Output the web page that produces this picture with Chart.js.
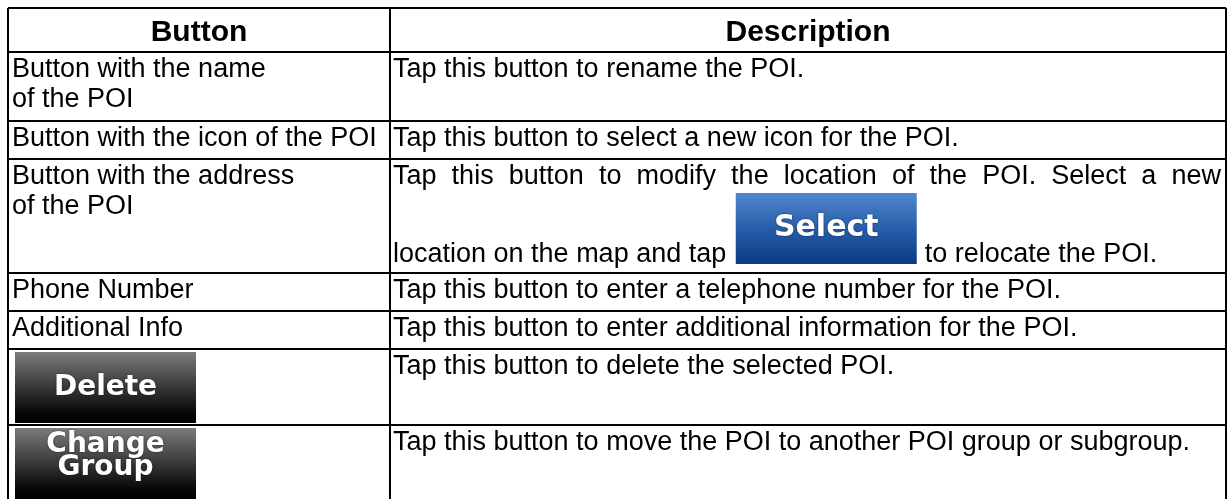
<!DOCTYPE html>
<html lang="en">
<head>
    <meta charset="UTF-8">
    <title>POI Buttons</title>
    <script src="https://cdn.jsdelivr.net/npm/chart.js"></script>
    <style>
        html, body { margin: 0; padding: 0; background: #fff; }
        #wrap { width: 1229px; height: 499px; }
    </style>
</head>
<body>
    <div id="wrap"><canvas id="poiTable" width="1229" height="499"></canvas></div>

    <script>
        // table content
        const columnTitles = ['Button', 'Description'];
        const buttonNames = [
            ['Button with the name', 'of the POI'],
            ['Button with the icon of the POI'],
            ['Button with the address', 'of the POI'],
            ['Phone Number'],
            ['Additional Info'],
            [],
            []
        ];
        const buttonImages = [null, null, null, null, null, ['Delete'], ['Change', 'Group']];
        const descriptions = [
            'Tap this button to rename the POI.',
            'Tap this button to select a new icon for the POI.',
            'Tap this button to modify the location of the POI. Select a new',
            'Tap this button to enter a telephone number for the POI.',
            'Tap this button to enter additional information for the POI.',
            'Tap this button to delete the selected POI.',
            'Tap this button to move the POI to another POI group or subgroup.'
        ];
        const inlineRow = 2;
        const inlineBefore = 'location on the map and tap';
        const inlineLabel = 'Select';
        const inlineAfter = 'to relocate the POI.';

        // layout (pixels)
        const layout = {
            left: 8, right: 1226, top: 8, split: 390,
            rowHeights: [44, 69, 38, 114, 38, 38, 76, 76],
            body: 27, head: 30, lineGap: 30, baseline: 25
        };

        const tableW = layout.right - layout.left;
        const visibleH = 499 - layout.top;
        const rowEdges = [0];
        layout.rowHeights.forEach(h => rowEdges.push(rowEdges[rowEdges.length - 1] + h));

        function text(ctx, s, x, y, font, align) {
            ctx.save();
            ctx.font = font;
            ctx.fillStyle = '#000';
            ctx.textAlign = align || 'left';
            ctx.textBaseline = 'alphabetic';
            ctx.fillText(s, x, y);
            ctx.restore();
        }

        function textWidth(ctx, s, font) {
            ctx.save();
            ctx.font = font;
            const w = ctx.measureText(s).width;
            ctx.restore();
            return w;
        }

        function justified(ctx, s, x0, x1, y, font) {
            const words = s.split(' ');
            const widths = words.map(w => textWidth(ctx, w, font));
            const gap = (x1 - x0 - widths.reduce((a, b) => a + b, 0)) / (words.length - 1);
            let x = x0;
            words.forEach((w, i) => {
                text(ctx, w, x, y, font);
                x += widths[i] + gap;
            });
        }

        function imageButton(ctx, x, y, w, h, stops, labels, size, lineH) {
            ctx.save();
            const g = ctx.createLinearGradient(0, y, 0, y + h);
            stops.forEach(s => g.addColorStop(s[0], s[1]));
            ctx.fillStyle = g;
            ctx.fillRect(x, y, w, h);
            ctx.font = 'bold ' + size + 'px "DejaVu Sans"';
            ctx.textAlign = 'center';
            ctx.textBaseline = 'middle';
            ctx.fillStyle = '#fff';
            ctx.shadowColor = 'rgba(0,0,0,0.6)';
            ctx.shadowBlur = 2;
            const y0 = y + h / 2 - (labels.length - 1) * lineH / 2 - (labels.length > 1 ? 7 : 0);
            labels.forEach((l, i) => ctx.fillText(l, x + w / 2, y0 + i * lineH));
            ctx.restore();
        }

        const greyStops = [[0, '#7c7c7c'], [0.45, '#3e3e3e'], [0.85, '#080808'], [1, '#000']];
        const blueStops = [[0, '#4f87cf'], [0.5, '#285ea9'], [1, '#093985']];

        const cellPlugin = {
            id: 'cells',
            afterDraw(chart) {
                const ctx = chart.ctx;
                const xs = chart.scales.x, ys = chart.scales.y;
                const bodyFont = layout.body + 'px "Liberation Sans", Arial, sans-serif';
                const headFont = 'bold ' + layout.head + 'px "Liberation Sans", Arial, sans-serif';
                const xL = xs.getPixelForValue(0);
                const xS = xs.getPixelForValue(layout.split - layout.left);
                const xR = xs.getPixelForValue(tableW);

                // header
                const hTop = ys.getPixelForValue(rowEdges[0]);
                text(ctx, columnTitles[0], (xL + xS) / 2, hTop + 33, headFont, 'center');
                text(ctx, columnTitles[1], (xS + xR) / 2, hTop + 33, headFont, 'center');

                // rows
                descriptions.forEach((d, i) => {
                    const top = ys.getPixelForValue(rowEdges[i + 1]);
                    const bottom = ys.getPixelForValue(rowEdges[i + 2]);
                    buttonNames[i].forEach((line, k) => {
                        text(ctx, line, xL + 4, top + layout.baseline + k * layout.lineGap, bodyFont);
                    });
                    if (buttonImages[i]) {
                        imageButton(ctx, xL + 7, top + 3, 181, bottom - top - 5, greyStops, buttonImages[i], 28, 23);
                    }
                    if (i === inlineRow) {
                        justified(ctx, d, xS + 3, xR - 5, top + layout.baseline, bodyFont);
                        const y2 = top + 103;
                        text(ctx, inlineBefore, xS + 3, y2, bodyFont);
                        const bx = xS + 3 + textWidth(ctx, inlineBefore + ' ', bodyFont) + 2;
                        imageButton(ctx, bx, top + 34, 181, 71, blueStops, [inlineLabel], 30, 30);
                        text(ctx, inlineAfter, bx + 181 + 8, y2, bodyFont);
                    } else {
                        text(ctx, d, xS + 3, top + layout.baseline, bodyFont);
                    }
                });
            }
        };

        const ruleGrid = {
            display: true,
            color: '#000',
            lineWidth: 2,
            drawTicks: false
        };

        new Chart(document.getElementById('poiTable'), {
            type: 'scatter',
            data: { datasets: [{ data: [] }] },
            options: {
                responsive: false,
                animation: false,
                events: [],
                layout: { padding: { left: layout.left, top: layout.top, right: 1229 - layout.right, bottom: 0 } },
                plugins: { legend: { display: false }, tooltip: { enabled: false } },
                scales: {
                    x: {
                        type: 'linear', min: 0, max: tableW,
                        grid: ruleGrid, border: { display: false },
                        ticks: { display: false },
                        afterBuildTicks: s => { s.ticks = [0, layout.split - layout.left, tableW].map(v => ({ value: v })); }
                    },
                    y: {
                        type: 'linear', min: 0, max: visibleH, reverse: true,
                        grid: ruleGrid, border: { display: false },
                        ticks: { display: false },
                        afterBuildTicks: s => { s.ticks = rowEdges.filter(v => v <= visibleH).map(v => ({ value: v })); }
                    }
                }
            },
            plugins: [cellPlugin]
        });
    </script>
</body>
</html>
